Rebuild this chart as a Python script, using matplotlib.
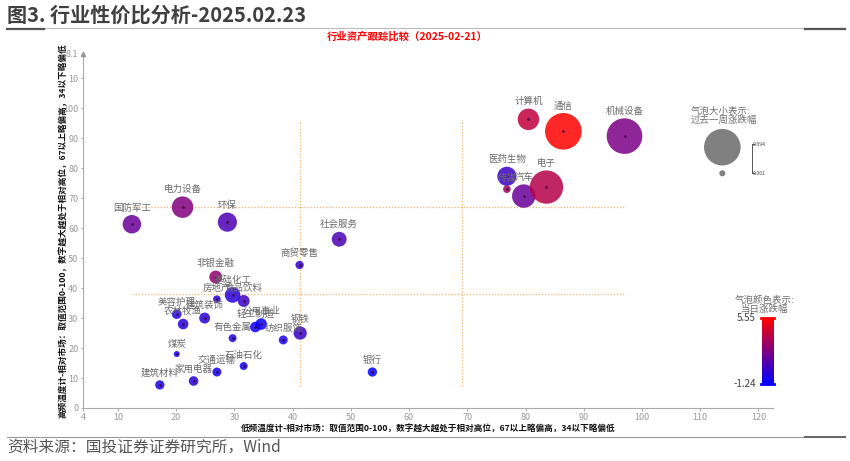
import numpy as np
import matplotlib
matplotlib.use('Agg')
import matplotlib.pyplot as plt
from matplotlib.colors import LinearSegmentedColormap, Normalize
from matplotlib.lines import Line2D

plt.rcParams['font.family'] = ['Noto Sans CJK SC', 'DejaVu Sans']
plt.rcParams['axes.unicode_minus'] = False

# data
industries = ['计算机', '通信', '机械设备', '医药生物', '传媒', '汽车', '电子', '国防军工',
              '电力设备', '环保', '社会服务', '商贸零售', '非银金融', '基础化工', '食品饮料',
              '房地产', '美容护理', '农林牧渔', '建筑装饰', '公用事业', '轻工制造', '有色金属',
              '纺织服饰', '钢铁', '煤炭', '石油石化', '交通运输', '家用电器', '建筑材料', '银行']
low_freq = [80.5, 86.5, 97.0, 76.8, 76.8, 79.7, 83.6, 12.4, 21.1, 28.8, 48.0, 41.2, 26.8, 29.7,
            31.6, 27.0, 20.1, 21.2, 24.9, 34.6, 33.6, 29.7, 38.4, 41.3, 20.1, 31.6, 27.0, 23.0,
            17.2, 53.7]
high_freq = [96.3, 92.3, 90.7, 77.3, 73.0, 70.7, 73.7, 61.3, 67.0, 62.0, 56.3, 47.7, 43.7, 37.7,
             35.7, 36.3, 31.3, 28.0, 30.0, 28.0, 27.0, 23.3, 22.7, 25.0, 18.0, 14.0, 12.0, 9.0,
             7.7, 12.0]
week_chg = [0.048, 0.094, 0.091, 0.041, 0.006, 0.054, 0.084, 0.039, 0.048, 0.041, 0.028, 0.008,
            0.022, 0.030, 0.019, 0.006, 0.012, 0.015, 0.016, 0.018, 0.015, 0.007, 0.010, 0.023,
            0.001, 0.007, 0.010, 0.012, 0.011, 0.011]
day_chg = [3.9, 5.55, 2.0, 0.3, 3.0, 1.5, 3.6, 1.5, 2.2, 0.8, 0.8, 0.2, 2.6, -0.2, 0.3, -0.3,
           -0.5, -0.3, -0.2, -1.0, -0.9, -0.4, -0.6, 0.2, -0.8, -0.8, -0.8, -0.3, -0.6, -1.24]
size_min, size_max = 0.001, 0.094
color_min, color_max = -1.24, 5.55
x_ticks = [4, 10, 20, 30, 40, 50, 60, 70, 80, 90, 100, 110, 120]
y_ticks = [0, 10, 20, 30, 40, 50, 60, 70, 80, 90, 100, 110, 118.1]
# the two top labels are cut off by the axis title in the source chart
y_tick_labels = ['0', '10', '20', '30', '40', '50', '60', '70', '80', '90', '100', '10', '8.1']


def radius_px(v):
    return 3 + (np.asarray(v) - size_min) / (size_max - size_min) * 15.3


def marker_area(v):
    return (2 * radius_px(v) * 0.72) ** 2


cmap = LinearSegmentedColormap.from_list('br', ['#0000ff', '#ff0000'])
norm = Normalize(color_min, color_max)

fig = plt.figure(figsize=(8.5, 4.61), dpi=100)
ax = fig.add_axes([0.0976, 0.1150, 0.8118, 0.7679])

# guide lines
ax.plot([41.3, 41.3], [7.5, 96], ls=(0, (1, 1.5)), color='#f5b26b', lw=0.9, zorder=1)
ax.plot([69.1, 69.1], [7.5, 96], ls=(0, (1, 1.5)), color='#f5b26b', lw=0.9, zorder=1)
ax.plot([12.5, 97], [38, 38], ls=(0, (1, 1.5)), color='#f5b26b', lw=0.9, zorder=1)
ax.plot([12.5, 97], [67, 67], ls=(0, (1, 1.5)), color='#f5b26b', lw=0.9, zorder=1)

ax.scatter(low_freq, high_freq, s=marker_area(week_chg), c=day_chg, cmap=cmap, norm=norm,
           alpha=0.85, edgecolors='none', zorder=3)
ax.scatter(low_freq, high_freq, s=0.6, color='#400040', zorder=4)

for name, x, y, v in zip(industries, low_freq, high_freq, week_chg):
    ax.annotate(name, (x, y), xytext=(0, (radius_px(v) + 2.5) * 0.72), textcoords='offset points',
                ha='center', va='bottom', fontsize=6.8, color='#6a6a6a', zorder=5)

# size legend
ax.scatter([113.8, 113.8], [87, 78.3], s=marker_area([size_max, size_min]), color='#808080',
           edgecolors='none', zorder=3)
ax.text(108.3, 97.6, '气泡大小表示:\n过去一周涨跌幅', fontsize=6.8, color='#707070',
        ha='left', va='center', linespacing=1.0)
ax.plot([118.9, 118.9], [78.3, 88], color='#555555', lw=0.7)
ax.plot([118.9, 119.3], [88, 88], color='#555555', lw=0.7)
ax.plot([118.9, 119.3], [78.3, 78.3], color='#555555', lw=0.7)
ax.text(119.1, 88, '0.094', fontsize=3.8, color='#444444', va='center', ha='left')
ax.text(119.1, 78.3, '0.001', fontsize=3.8, color='#444444', va='center', ha='left')

ax.set_xlim(4, 122.5)
ax.set_ylim(0, 118.1)
ax.set_xticks(x_ticks)
ax.set_xticklabels([str(t) for t in x_ticks])
ax.set_yticks(y_ticks)
ax.set_yticklabels(y_tick_labels)
ax.tick_params(labelsize=6.5, colors='#999999', length=1.8, width=0.6, pad=1.5)
for side in ['top', 'right']:
    ax.spines[side].set_visible(False)
for side in ['left', 'bottom']:
    ax.spines[side].set_color('#aaaaaa')
    ax.spines[side].set_linewidth(0.8)
ax.plot([4], [118.1], marker='^', color='#999999', ms=3, clip_on=False, zorder=6)

ax.set_xlabel('低频温度计-相对市场：取值范围0-100，数字越大越处于相对高位，67以上略偏高，34以下略偏低',
              fontsize=6.2, fontweight='bold', color='#111111', labelpad=2)
ax.set_ylabel('高频温度计-相对市场：取值范围0-100，数字越大越处于相对高位，67以上略偏高，34以下略偏低',
              fontsize=6.2, fontweight='bold', color='#111111')
ax.yaxis.set_label_coords(-0.0217, 0.5)

# colour legend
cax = fig.add_axes([0.8965, 0.167, 0.013, 0.143])
grad = np.linspace(color_min, color_max, 200).reshape(-1, 1)
cax.imshow(grad, aspect='auto', cmap=cmap, norm=norm, origin='lower')
cax.axis('off')
fig.add_artist(Line2D([0.8955, 0.9105], [0.311, 0.311], color='#ff0000', lw=2))
fig.add_artist(Line2D([0.8955, 0.9105], [0.166, 0.166], color='#0000ff', lw=2))
fig.text(0.889, 0.310, '5.55', fontsize=7, color='#404040', ha='right', va='center')
fig.text(0.889, 0.167, '-1.24', fontsize=7, color='#404040', ha='right', va='center')
fig.text(0.899, 0.339, '气泡颜色表示:\n当日涨跌幅', fontsize=6.8, color='#707070', ha='center',
         va='center', linespacing=0.95)

# page header / footer
fig.text(0.008, 0.967, '图3. 行业性价比分析-2025.02.23', fontsize=14.5, fontweight='bold',
         color='#404040', ha='left', va='center')
fig.add_artist(Line2D([0.008, 0.994], [0.939, 0.939], color='#bbbbbb', lw=0.8))
fig.add_artist(Line2D([0.008, 0.052], [0.938, 0.938], color='#555555', lw=1.6))
fig.add_artist(Line2D([0.947, 0.994], [0.937, 0.937], color='#555555', lw=1.6))
fig.text(0.479, 0.92, '行业资产跟踪比较（2025-02-21）', fontsize=7.5, fontweight='bold',
         color='#ff0000', ha='center', va='center')
fig.add_artist(Line2D([0.008, 0.994], [0.052, 0.052], color='#999999', lw=0.8))
fig.add_artist(Line2D([0.947, 0.994], [0.052, 0.052], color='#666666', lw=1.4))
fig.text(0.008, 0.030, '资料来源：国投证券证券研究所，Wind', fontsize=11.3, style='italic',
         color='#555555', ha='left', va='center')

fig.savefig('out.png', dpi=100)
